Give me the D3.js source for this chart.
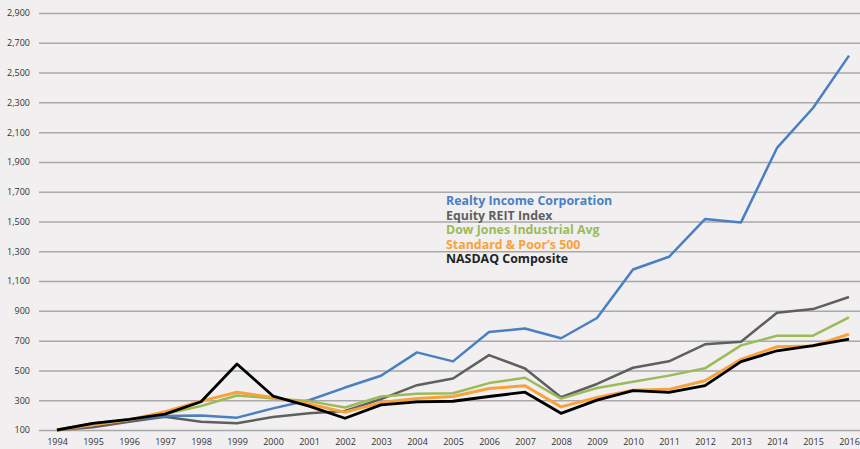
<!DOCTYPE html>
<html>
<head>
<meta charset="utf-8">
<script src="https://cdn.jsdelivr.net/npm/d3@7"></script>
<style>
  html, body { margin: 0; padding: 0; background: #f1eff0; }
  svg { display: block; }
</style>
</head>
<body>
<div id="chart"></div>
<script>
// data
var years = [1994, 1995, 1996, 1997, 1998, 1999, 2000, 2001, 2002, 2003, 2004,
             2005, 2006, 2007, 2008, 2009, 2010, 2011, 2012, 2013, 2014, 2015, 2016];

var realtyIncome = [100, 145, 168, 194, 198, 183, 245, 300, 385, 464, 621,
                    561, 758, 781, 716, 852, 1178, 1263, 1516, 1494, 1994, 2262, 2614];
var equityReit   = [100, 118, 155, 189, 156, 145, 187, 212, 228, 307, 401,
                    446, 603, 513, 320, 409, 518, 561, 675, 693, 887, 912, 993];
var dowJones     = [100, 140, 170, 207, 261, 332, 312, 294, 251, 325, 343,
                    347, 415, 451, 311, 382, 424, 465, 514, 668, 733, 733, 856];
var sp500        = [100, 135, 168, 223, 294, 353, 319, 275, 219, 284, 311,
                    325, 379, 397, 255, 318, 367, 373, 431, 574, 659, 664, 744];
var nasdaq       = [100, 145, 172, 207, 290, 543, 328, 260, 179, 269, 289,
                    293, 325, 354, 212, 301, 364, 353, 398, 559, 632, 666, 711];

var seriesNames = ["Realty Income Corporation", "Equity REIT Index", "Dow Jones Industrial Avg",
                   "Standard & Poor’s 500", "NASDAQ Composite"];
var yTicks = [100, 300, 500, 700, 900, 1100, 1300, 1500, 1700, 1900, 2100, 2300, 2500, 2700, 2900];

var width = 860, height = 449;

var series = [
  { name: seriesNames[1], values: equityReit,   color: "#5f5f5f", w: 2.5 },
  { name: seriesNames[0], values: realtyIncome, color: "#4a7fc1", w: 2.5 },
  { name: seriesNames[2], values: dowJones,     color: "#9bbb59", w: 2.5 },
  { name: seriesNames[3], values: sp500,        color: "#f9a23b", w: 3 },
  { name: seriesNames[4], values: nasdaq,       color: "#000000", w: 2.8 }
];

var svg = d3.select("#chart").append("svg")
    .attr("width", width)
    .attr("height", height);

svg.append("rect")
    .attr("width", width)
    .attr("height", height)
    .attr("fill", "#f1eff0");

var x = d3.scalePoint()
    .domain(years)
    .range([57, 849]);

var y = d3.scaleLinear()
    .domain([100, 2900])
    .range([430, 13]);

// gridlines + y labels
var yAxis = d3.axisLeft(y)
    .tickValues(yTicks)
    .tickSize(-(width - 39))
    .tickPadding(9)
    .tickFormat(d3.format(","));

var gy = svg.append("g")
    .attr("transform", "translate(39,0)")
    .call(yAxis);
gy.select(".domain").remove();
gy.selectAll(".tick line")
    .attr("stroke", "#a9a9a9")
    .attr("stroke-width", 1.5);
gy.selectAll(".tick text")
    .attr("fill", "#333")
    .style("font-family", "'Open Sans', sans-serif")
    .style("font-size", "9px");

// x labels
var xAxis = d3.axisBottom(x)
    .tickSize(0)
    .tickPadding(9);
var gx = svg.append("g")
    .attr("transform", "translate(0,430)")
    .call(xAxis);
gx.select(".domain").remove();
gx.selectAll(".tick text")
    .attr("fill", "#333")
    .style("font-family", "'Open Sans', sans-serif")
    .style("font-size", "9px");

// lines
var line = d3.line()
    .x(function(d, i){ return x(years[i]); })
    .y(function(d){ return y(d); });

svg.selectAll(".series")
    .data(series)
    .enter().append("path")
    .attr("class", "series")
    .attr("fill", "none")
    .attr("stroke", function(d){ return d.color; })
    .attr("stroke-width", function(d){ return d.w; })
    .attr("stroke-linejoin", "round")
    .attr("d", function(d){ return line(d.values); });

// legend
var legendColors = ["#4a7fc1", "#5f5f5f", "#9bbb59", "#f9a23b", "#222222"];
svg.append("g")
    .selectAll("text")
    .data(seriesNames)
    .enter().append("text")
    .attr("x", 446)
    .attr("y", function(d, i){ return 205 + i * 14.6; })
    .attr("fill", function(d, i){ return legendColors[i]; })
    .style("font-family", "'Open Sans', sans-serif")
    .style("font-weight", "bold")
    .style("font-size", "12.4px")
    .text(function(d){ return d; });
</script>
</body>
</html>
